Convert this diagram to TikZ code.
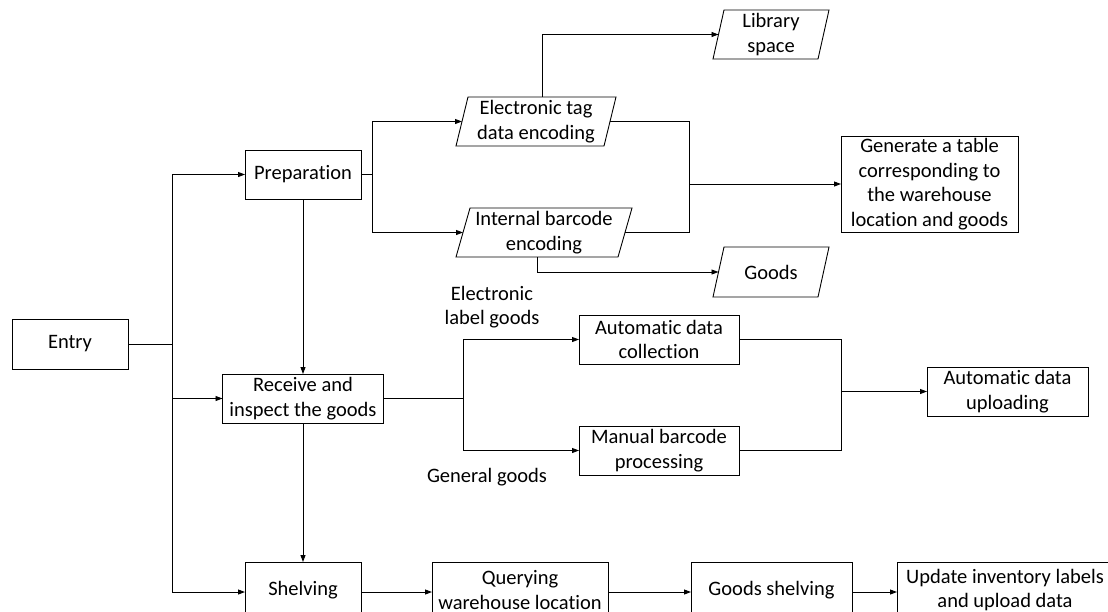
\documentclass[tikz,border=0pt]{standalone}
\usepackage{fontspec}
\setmainfont[Ligatures={NoCommon}]{Carlito}
\usetikzlibrary{arrows.meta}
\tikzset{
  box/.style={draw, line width=0.9pt, inner sep=0pt, outer sep=0pt, align=center, minimum height=49pt},
  pbox/.style={draw=none, inner sep=0pt, outer sep=0pt, align=center, minimum height=49pt},
  pline/.style={draw, line width=0.9pt, line join=miter},
  lbl/.style={inner sep=0pt, align=center},
  con/.style={line width=0.9pt},
  arr/.style={con, -{Triangle[length=7pt,width=5pt]}}
}
\begin{document}
\begin{tikzpicture}[x=1pt,y=-1pt, font=\fontsize{20.5}{24.6}\selectfont]
\useasboundingbox (0,0) rectangle (1108,611);
\clip (0,0) rectangle (1108,611);
% rectangles
\node[box, minimum width=116pt, minimum height=50pt] (entry) at (70,344) {Entry};
\node[box, minimum width=116pt] (prep) at (303,174.5) {Preparation};
\node[box, minimum width=161pt] (recv) at (303,398.5) {Receive and\\inspect the goods};
\node[box, minimum width=177pt, minimum height=96pt] (gen) at (929.5,184) {Generate a table\\corresponding to\\the warehouse\\location and goods};
\node[box, minimum width=160pt] (adc) at (659,339.5) {Automatic data\\collection};
\node[box, minimum width=160pt] (mbp) at (659,450.5) {Manual barcode\\processing};
\node[box, minimum width=161pt] (upl) at (1007.5,391.5) {Automatic data\\uploading};
\node[box, minimum width=116pt, minimum height=56pt] (shelv) at (303,590) {Shelving};
\node[box, minimum width=176pt, minimum height=56pt] (qwl) at (520,590) {Querying\\warehouse location};
\node[box, minimum width=161pt, minimum height=56pt] (gs) at (771.5,590) {Goods shelving};
\node[box, minimum width=216pt, minimum height=56pt] (upd) at (1005,590) {Update inventory labels\\and upload data};
% parallelograms
\node[pbox, minimum width=148pt] (et) at (536,121.5) {Electronic tag\\data encoding};
\path[pline] ([xshift=6pt]et.north west) -- ([xshift=6pt]et.north east) -- ([xshift=-6pt]et.south east) -- ([xshift=-6pt]et.south west) -- cycle;
\node[pbox, minimum width=162pt] (ib) at (544,232.5) {Internal barcode\\encoding};
\path[pline] ([xshift=7pt]ib.north west) -- ([xshift=7pt]ib.north east) -- ([xshift=-7pt]ib.south east) -- ([xshift=-7pt]ib.south west) -- cycle;
\node[pbox, minimum width=105pt] (lib) at (771,34.5) {Library\\space};
\path[pline] ([xshift=5.5pt]lib.north west) -- ([xshift=5.5pt]lib.north east) -- ([xshift=-5.5pt]lib.south east) -- ([xshift=-5.5pt]lib.south west) -- cycle;
\node[pbox, minimum width=105pt, minimum height=50pt] (goods) at (771,272) {Goods};
\path[pline] ([xshift=5.5pt]goods.north west) -- ([xshift=5.5pt]goods.north east) -- ([xshift=-5.5pt]goods.south east) -- ([xshift=-5.5pt]goods.south west) -- cycle;
% labels
\node[lbl] (lelg) at (492,307) {Electronic\\label goods};
\node[lbl] (lgg) at (487,477) {General goods};
% junction coordinates
\coordinate (j1) at (172,344);
\coordinate (j2) at (372,174.5);
\coordinate (j3) at (689,184);
\coordinate (j4) at (463,398.5);
\coordinate (j5) at (841,391.5);
% connectors
\draw[con] (entry.east) -- (j1);
\draw[arr] (j1) |- (prep.west);
\draw[arr] (j1) |- (recv.west);
\draw[arr] (j1) |- ([yshift=-2pt]shelv.west);
\draw[arr] (prep.south) -- (recv.north);
\draw[arr] (recv.south) -- (shelv.north);
\draw[con] (prep.east) -- (j2);
\draw[arr] (j2) |- (et.west);
\draw[arr] (j2) |- (ib.west);
\draw[arr] ([xshift=6pt]et.north) |- (lib.west);
\draw[arr] ([xshift=-7pt]ib.south) |- (goods.west);
\draw[con] (et.east) -| (j3);
\draw[con] (ib.east) -| (j3);
\draw[arr] (j3) -- (gen.west);
\draw[con] (recv.east) -- (j4);
\draw[arr] (j4) |- (adc.west);
\draw[arr] (j4) |- (mbp.west);
\draw[con] (adc.east) -| (j5);
\draw[con] (mbp.east) -| (j5);
\draw[arr] (j5) -- (upl.west);
\draw[arr] ([yshift=-2pt]shelv.east) -- ([yshift=-2pt]qwl.west);
\draw[arr] ([yshift=-2pt]qwl.east) -- ([yshift=-2pt]gs.west);
\draw[arr] ([yshift=-2pt]gs.east) -- ([yshift=-2pt]upd.west);
\end{tikzpicture}
\end{document}
